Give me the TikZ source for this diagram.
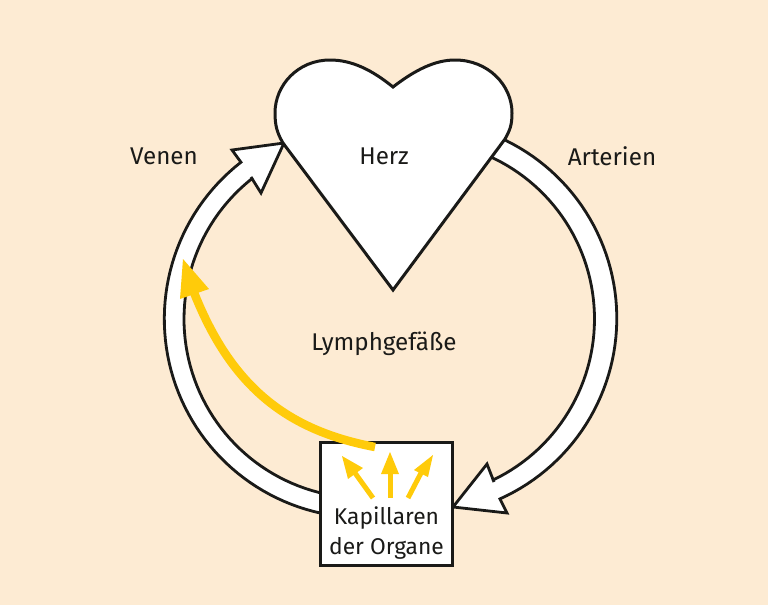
\documentclass[tikz,border=0pt]{standalone}
\usepackage{fontspec}
\setmainfont{Fira Sans}
\definecolor{bgcream}{HTML}{FDEBD3}
\definecolor{gold}{HTML}{FFCB0A}
\definecolor{inkline}{HTML}{1A1A18}
\tikzset{
  organ/.style={draw=inkline,fill=white,line width=3pt,miter limit=10,line join=miter},
  vessel/.style={draw=inkline,fill=white,line width=2.8pt,line join=miter},
  label/.style={font=\fontsize{24.2}{30}\selectfont,text=inkline,inner sep=0pt,align=center},
  boxlabel/.style={font=\fontsize{22.8}{30}\selectfont,text=inkline,inner sep=0pt,align=center},
  flow/.style={draw=gold,line width=5pt},
  flowhead/.style={fill=gold,draw=none},
}
\begin{document}
\begin{tikzpicture}[x=1pt,y=-1pt]
\useasboundingbox (0,0) rectangle (768,605);
\fill[bgcream] (0,0) rectangle (768,605);
% artery
\draw[vessel] plot[domain=-66:65.8,samples=60] ({418.8+198*cos(\x)},{318.3+198*sin(\x)})
  -- (507,513) -- (453,507) -- (487,464) -- (494,482)
  -- plot[domain=64.4:-66,samples=60] ({416+178.5*cos(\x)},{319+178.5*sin(\x)}) -- cycle;
% vein
\draw[vessel] plot[domain=100:232.1,samples=60] ({363+198.7*cos(\x)},{319+198.7*sin(\x)})
  -- (232,150) -- (284,143) -- (261,193) -- (251,177)
  -- plot[domain=231.7:100,samples=60] ({363+179*cos(\x)},{319+179*sin(\x)}) -- cycle;
% heart
\draw[organ] (393,87) .. controls (415,70) and (435,60) .. (455,60)
  .. controls (488,60) and (512,85) .. (512,113)
  .. controls (512,125) and (510,130) .. (505,139)
  -- (393,290) -- (283,143)
  .. controls (277,133) and (275,125) .. (275,113)
  .. controls (275,85) and (298,60) .. (330,60)
  .. controls (352,60) and (372,70) .. (393,87) -- cycle;
% box
\node[organ,minimum width=132pt,minimum height=123pt,inner sep=0pt] (box) at (386,503.5) {};
\node[boxlabel] (kap) at (386.5,533) {Kapillaren\\der Organe};
\node[label] (herz) at (384,156) {Herz};
\node[label] (venen) at (164,156) {Venen};
\node[label] (art) at (612,156) {Arterien};
\node[label] (lymph) at (384,344) {Lymphgefäße};
% yellow
\coordinate (bigstart) at (375,447);
\coordinate (bigend) at (193,290);
\draw[gold,line width=8.5pt] (bigstart) .. controls (285,430) and (230,385) .. (bigend);
\fill[flowhead] (183,259) -- (209,289) -- (180,299) -- cycle;
\coordinate (a1) at (373,498); \coordinate (a2) at (355,473);
\coordinate (b1) at (390,498); \coordinate (b2) at (390,473);
\coordinate (c1) at (408,498); \coordinate (c2) at (421,473);
\draw[flow] (a1) -- (a2);
\draw[flow] (b1) -- (b2);
\draw[flow] (c1) -- (c2);
\fill[flowhead] (342,456) -- (363,468) -- (348,479) -- cycle;
\fill[flowhead] (390,452) -- (399,474) -- (381,474) -- cycle;
\fill[flowhead] (433,455) -- (428,477) -- (414,470) -- cycle;
\end{tikzpicture}
\end{document}
